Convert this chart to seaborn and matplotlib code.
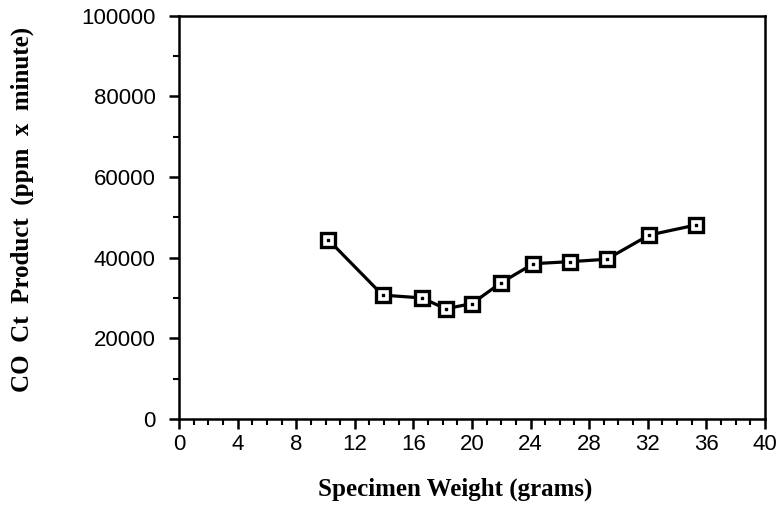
import matplotlib
matplotlib.use("Agg")
import matplotlib.pyplot as plt
import seaborn as sns
import pandas as pd
from matplotlib.ticker import MultipleLocator

weight = [10.2, 13.9, 16.6, 18.2, 20.0, 22.0, 24.2, 26.7, 29.2, 32.1, 35.3]
co_ct = [44400, 30700, 30000, 27300, 28600, 33800, 38500, 39000, 39600, 45600, 48100]
x_ticks = list(range(0, 41, 4))
y_ticks = list(range(0, 100001, 20000))

df = pd.DataFrame({"weight": weight, "co": co_ct})

sns.set_theme(style="white")
plt.rcParams["font.family"] = ["Liberation Sans", "DejaVu Sans"]

fig = plt.figure(figsize=(7.82, 5.12), dpi=100)
ax = fig.add_axes([0.229, 0.182, 0.749, 0.787])

sns.lineplot(data=df, x="weight", y="co", ax=ax, color="black", linewidth=2.3,
             marker="s", markersize=10, markerfacecolor="white",
             markeredgecolor="black", markeredgewidth=2.4)
ax.scatter(df["weight"], df["co"], s=4, color="black", marker="s", zorder=5)

ax.set_xlim(0, 40)
ax.set_ylim(0, 100000)
ax.set_xticks(x_ticks)
ax.set_xticklabels([str(v) for v in x_ticks])
ax.set_yticks(y_ticks)
ax.set_yticklabels([str(v) for v in y_ticks])
ax.xaxis.set_minor_locator(MultipleLocator(1))
ax.yaxis.set_minor_locator(MultipleLocator(10000))
ax.tick_params(axis="both", which="major", direction="out", length=7, width=1.8,
               labelsize=16, colors="black", bottom=True, left=True)
ax.tick_params(axis="both", which="minor", direction="out", length=4, width=1.5,
               colors="black", bottom=True, left=True)
ax.tick_params(axis="x", which="major", pad=4)
ax.tick_params(axis="y", which="major", pad=10)

for s in ax.spines.values():
    s.set_color("black")
    s.set_linewidth(1.8)
    s.set_visible(True)

ax.set_xlabel("Specimen Weight (grams)", family=["Liberation Serif"], weight="bold",
              fontsize=18, color="black")
ax.set_ylabel("CO  Ct  Product  (ppm  x  minute)", family=["Liberation Serif"], weight="bold",
              fontsize=18, color="black")
ax.xaxis.set_label_coords(0.471, -0.145)
ax.yaxis.set_label_coords(-0.247, 0.519)

fig.savefig("out.png", dpi=100)
